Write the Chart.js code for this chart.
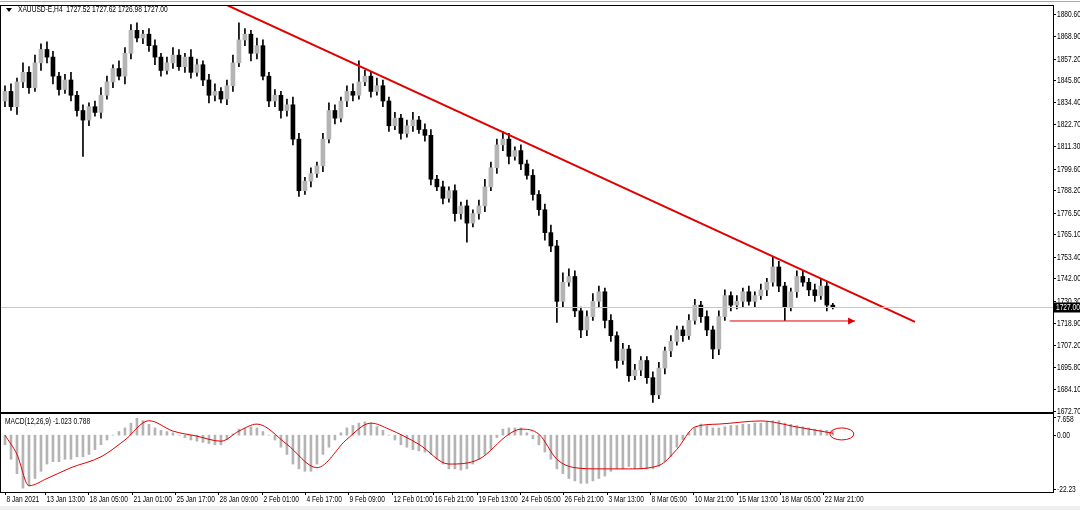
<!DOCTYPE html>
<html><head><meta charset="utf-8">
<script src="https://cdn.jsdelivr.net/npm/chart.js@4/dist/chart.umd.min.js"></script>
<style>
body{margin:0;background:#fff;width:1080px;height:510px;overflow:hidden}
#c1{position:absolute;left:0;top:0}
#c2{position:absolute;left:0;top:403px}
</style></head><body>
<canvas id="c1" width="1080" height="421"></canvas>
<canvas id="c2" width="1080" height="107"></canvas>
<script>
const title = "XAUUSD-E,H4  1727.52 1727.62 1726.98 1727.00";
const macdTitle = "MACD(12,26,9) -1.023 0.788";
const closes = [1840,1832,1845,1850,1842,1855,1862, 1858,1848,1841, 1846,1838,1830,1825, 1832,1829,1838,
 1845,1852,1848,1860,1872, 1868,1870,1864, 1858,1851,1855,1859, 1853,1858,1850,1854, 1846,1838, 1840,1836,1843,
 1855,1867, 1870,1860,1864, 1848,1835, 1838,1830,1833, 1815,1788, 1793,1797,1801, 1815,1830, 1826,1835,1840,
 1838,1845, 1848,1840,1843, 1835,1822, 1826,1818,1822, 1825,1820,1817, 1794,1790,1784, 1788,1776,1780,1771,
 1776,1780,1790, 1800,1812, 1815,1806,1809, 1802,1796, 1786,1778, 1766,1759, 1730,1740, 1743,1725,1715,
 1722,1730, 1735,1720,1712, 1699,1705,1691, 1694,1699, 1690,1681, 1695,1704, 1709,1715, 1712,1720,
 1728,1722,1715, 1705,1722, 1733,1728,1730, 1735,1730,1733, 1736,1740,1748, 1738,1727, 1735,1743,
 1740,1736,1733, 1738,1728,1727];
const firstOpen = 1835;
const upWick = [3,4,2,5,3,4,3, 4,3,2, 3,4,2,3, 2,3,4, 3,2,4,3,3, 4,2,3, 3,2,3,4, 3,2,4,3, 2,3, 4,2,3, 4,9, 3,2,4, 3,2, 3,2,3, 4,3, 2,3,2, 3,4, 3,2,3, 4,11, 3,2,4, 3,2, 3,2,3, 4,2,3, 3,2,3, 2,3,2,3, 2,3,4, 3,3, 4,3,2, 3,2, 3,2, 3,4, 3,5, 4,3,2, 3,4, 3,2,3, 2,3,2, 3,2, 2,3, 3,2, 3,2, 2,3, 3,2,3, 2,3, 3,2,3, 2,3,2, 3,2,5, 3,2, 2,3, 3,2,3, 4,2,1];
const dnWick = [3,2,4,3,3,2,4, 3,4,3, 2,3,3,19, 3,2,3, 2,3,2,4,3, 2,3,3, 4,3,2,3, 2,3,3,2, 3,4, 3,2,3, 3,2, 3,4,3, 2,3, 3,4,3, 3,3, 2,3,2, 3,2, 3,2,3, 3,2, 2,3,2, 3,3, 2,3,2, 3,2,3, 3,2,3, 2,4,3,10, 2,3,3, 2,3, 3,4,2, 3,2, 3,3, 4,3, 11,3, 2,3,4, 3,2, 3,4,3, 4,2,3, 2,3, 3,4, 2,3, 3,2, 3,2, 2,3,3, 5,3, 2,3,2, 3,2,3, 2,3,2, 3,7, 2,3, 2,3,3, 2,3,1];
const hist = [-4,-10,-16,-22, -21,-18,-15,-12, -11,-11,-10,-10, -9,-9,-8, -6,-4,-2, 0,1.5,3, 5,7, 6,4.5,3, 2,1.5,1,
 0,-1,-2,-2.5, -3,-3.5,-4,-4, -2,0.5,2.5, 3,3.5,3, 1.5,0,-2, -5,-8,-12, -14,-15,-15, -12,-8,-5, -2,1,3, 4,5,5.5,
 5,3.5,2, 0,-2,-4, -5,-6,-6.5,-7,-8, -10,-12,-14, -14,-14.5,-14, -12,-10,-8,-6, -1,2.5, 3,3,3, 1,-1.5,-4,
 -7,-10,-14, -16,-18, -19,-20,-20, -19,-18, -17,-15,-14, -14,-13,-14,-14, -14,-14, -13,-11,-9, -5,-2,
 1,3,4.6, 4,3,3, 3.5,4,4, 4.5,4.5,5,5, 5.5,6,6, 5,4.5,4, 3.5,3,2.5, 2.2,2,1.7];
const sigIdx = [0,2,4,7,11,16,20,24,28,32,36,39,42,47,52,57,61,64,69,74,79,84,86,89,92,95,99,104,109,112,115,119,126,132,138];
const sigVal = [0,-8,-21,-18,-13.5,-9,-2,6,1.7,-0.4,-2.5,1.7,4.6,-3.8,-13.5,-1.7,5,2.5,-3.8,-12,-10,0.4,2.5,0.4,-10,-13.5,-14,-14,-12.6,-5.9,3.4,4.6,5.9,3.4,0.8];
const priceTicks = [1880.60,1868.90,1857.20,1845.80,1834.40,1822.70,1811.30,1799.60,1788.20,1776.50,1765.10,1753.40,1742.00,1730.30,1718.90,1707.20,1695.80,1684.10,1672.70];
const macdTicks = [7.658,0,-22.23];
const macdTickText = ["7.658","0.00","-22.23"];
const timeLabels = ["8 Jan 2021","13 Jan 13:00","18 Jan 05:00","21 Jan 01:00","25 Jan 17:00","28 Jan 09:00","2 Feb 01:00","4 Feb 17:00","9 Feb 09:00","12 Feb 01:00","16 Feb 21:00","19 Feb 13:00","24 Feb 05:00","26 Feb 21:00","3 Mar 13:00","8 Mar 05:00","10 Mar 21:00","15 Mar 13:00","18 Mar 05:00","22 Mar 21:00"];
const timeIdx = [0,6.7,13.8,21.2,28.3,35.5,42.8,50,57.2,64.5,71.3,78.7,85.8,93,100.3,107.5,114.7,122,129.2,136.3];
const trendX = [36.2,151.7], trendY = [1886.4,1719.2];
const arrowX = [120.8,141.7], arrowY = [1719.7,1719.7];
const ellipse = {x:139.5, y:0.5};
const lastPrice = 1727.00;

const XMIN=-0.83, XMAX=174.7;
const FF = '"Liberation Sans", Arial, sans-serif';
const SQ = 0.78; // horizontal condensation to mimic terminal font
function txt(c, s, x, y, color){
  c.save(); c.font='8.5px '+FF; c.textBaseline='middle'; c.fillStyle=color||'#000';
  c.translate(x,y); c.scale(SQ,1); c.fillText(s,0,0); c.restore();
}
const opens = closes.map((c,i)=> i===0 ? firstOpen : closes[i-1]);
const bodies = closes.map((c,i)=>({x:i, y:[opens[i], c]}));
const wicks = closes.map((c,i)=>({x:i, y:[Math.min(opens[i],c)-dnWick[i], Math.max(opens[i],c)+upWick[i]]}));
const bodyColors = closes.map((c,i)=> c>=opens[i] ? '#b4b4b4' : '#000');
const fixW = s=>{s.width=27;};

const overlay1 = {id:'ov1', afterDraw(ch){
  const c=ch.ctx, a=ch.chartArea, x=ch.scales.x, y=ch.scales.y;
  c.save();
  c.strokeStyle='#c8c8c8'; c.lineWidth=1;
  const ly=Math.round(y.getPixelForValue(lastPrice))+0.5;
  c.beginPath(); c.moveTo(a.left,ly); c.lineTo(a.right,ly); c.stroke();
  c.strokeStyle='#000'; c.strokeRect(a.left+0.5,a.top+0.5,a.right-a.left,a.bottom-a.top);
  c.strokeStyle='#aaa'; c.beginPath(); c.moveTo(0,1.5); c.lineTo(1080,1.5); c.stroke();
  const ax=x.getPixelForValue(arrowX[1]), ay=y.getPixelForValue(arrowY[1]);
  c.fillStyle='#e00000'; c.beginPath(); c.moveTo(ax,ay); c.lineTo(ax-7,ay-3.5); c.lineTo(ax-7,ay+3.5); c.closePath(); c.fill();
  c.strokeStyle='#000';
  priceTicks.forEach(v=>{const py=Math.round(y.getPixelForValue(v))+0.5;
    c.beginPath(); c.moveTo(a.right,py); c.lineTo(a.right+3,py); c.stroke();
    txt(c, v.toFixed(2), a.right+4, py);});
  c.fillStyle='#000'; c.fillRect(a.right+1, ly-5, 26, 10);
  txt(c, lastPrice.toFixed(2), a.right+3, ly, '#fff');
  c.fillStyle='#000'; c.beginPath(); c.moveTo(6,8); c.lineTo(12,8); c.lineTo(9,12); c.closePath(); c.fill();
  txt(c, title, 18, 10);
  c.restore();
}};
new Chart(document.getElementById('c1'),{
  type:'bar',
  data:{datasets:[
    {data:wicks, backgroundColor:'#000', barThickness:1, grouped:false, order:3},
    {data:bodies, backgroundColor:bodyColors, borderWidth:0, barThickness:4, grouped:false, order:2},
    {type:'line', data:trendX.map((v,i)=>({x:v,y:trendY[i]})), borderColor:'#e00000', borderWidth:2, pointRadius:0, order:1},
    {type:'line', data:arrowX.map((v,i)=>({x:v,y:arrowY[i]})), borderColor:'#e00000', borderWidth:1, pointRadius:0, order:1}
  ]},
  options:{responsive:false, animation:false, layout:{padding:{top:5,left:0,right:0,bottom:9}},
    plugins:{legend:{display:false}, tooltip:{enabled:false}},
    scales:{
      x:{type:'linear', min:XMIN, max:XMAX, display:false, offset:false},
      y:{position:'right', min:1672.0, max:1885.3, afterFit:fixW, grid:{display:false, drawTicks:false}, border:{color:'#000'},
        ticks:{display:false}}
    }},
  plugins:[overlay1]
});

const overlay2 = {id:'ov2', afterDraw(ch){
  const c=ch.ctx, a=ch.chartArea, x=ch.scales.x, y=ch.scales.y;
  c.save();
  c.strokeStyle='#000'; c.lineWidth=1; c.strokeRect(a.left+0.5,a.top+0.5,a.right-a.left,a.bottom-a.top);
  c.strokeStyle='#e00000';
  c.beginPath(); c.ellipse(x.getPixelForValue(ellipse.x), y.getPixelForValue(ellipse.y), 12, 6, 0, 0, Math.PI*2); c.stroke();
  txt(c, macdTitle, 5, a.top+9);
  c.strokeStyle='#000';
  macdTicks.forEach((v,i)=>{const py=Math.round(y.getPixelForValue(v))+0.5;
    c.beginPath(); c.moveTo(a.right,py); c.lineTo(a.right+3,py); c.stroke();
    txt(c, macdTickText[i], a.right+4, py+(i===0?2:0));});
  timeIdx.forEach((v,i)=>{const px=Math.round(x.getPixelForValue(v))+0.5;
    c.beginPath(); c.moveTo(px,a.bottom); c.lineTo(px,a.bottom+3); c.stroke();
    txt(c, timeLabels[i], px+1, a.bottom+8);});
  c.fillStyle='#f0f0f0'; c.fillRect(0,ch.height-4,1080,4);
  c.restore();
}};
new Chart(document.getElementById('c2'),{
  type:'bar',
  data:{datasets:[
    {data:hist.map((v,i)=>({x:i,y:v})), backgroundColor:'#b4b4b4', barThickness:2, order:2},
    {type:'line', data:sigIdx.map((v,i)=>({x:v,y:sigVal[i]})), borderColor:'#e00000', borderWidth:1, pointRadius:0, cubicInterpolationMode:'monotone', order:1}
  ]},
  options:{responsive:false, animation:false, layout:{padding:{top:10,bottom:18}},
    plugins:{legend:{display:false}, tooltip:{enabled:false}},
    scales:{
      x:{type:'linear', min:XMIN, max:XMAX, offset:false, display:false},
      y:{position:'right', min:-23.6, max:9.2, afterFit:fixW, grid:{display:false, drawTicks:false}, border:{color:'#000'},
        ticks:{display:false}}
    }},
  plugins:[overlay2]
});
</script></body></html>
